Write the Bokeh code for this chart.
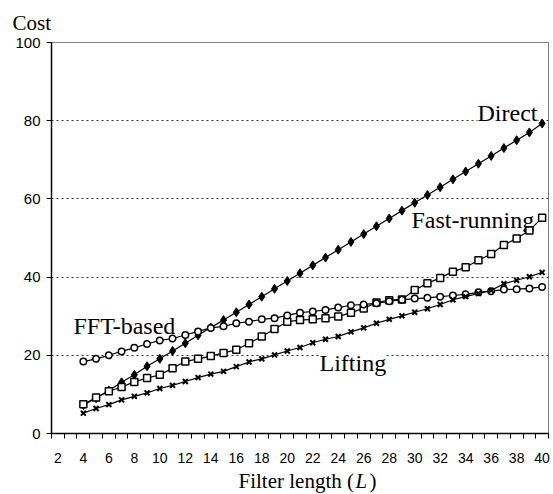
from bokeh.plotting import figure
from bokeh.models import FixedTicker, Label, Range1d, Title
from bokeh.layouts import column
from bokeh.embed import file_html
from bokeh.resources import INLINE

# ---- data ----
filter_length = list(range(4, 41))
direct = [7.3, 9.0, 11.0, 13.1, 15.0, 17.2, 19.1, 21.1, 23.1, 25.1, 27.1, 29.0, 31.0,
          33.0, 35.0, 37.0, 39.0, 41.0, 43.0, 45.0, 47.0, 49.0, 51.0, 53.0, 55.0, 57.0,
          59.0, 61.0, 63.0, 65.0, 67.0, 69.0, 71.0, 73.0, 75.0, 77.0, 79.3]
fast_running = [7.5, 9.2, 10.8, 11.9, 13.2, 14.2, 15.0, 16.7, 18.4, 19.1, 19.8, 20.6, 21.4,
                23.1, 24.8, 26.7, 28.6, 29.0, 29.2, 29.5, 29.9, 30.9, 32.0, 33.5, 34.1, 34.3,
                36.7, 38.4, 39.8, 41.4, 42.5, 44.3, 45.9, 48.2, 49.9, 51.9, 55.2]
fft_based = [18.4, 19.1, 20.0, 21.0, 21.9, 22.9, 23.8, 24.3, 25.2, 26.1, 27.0, 27.4, 28.2,
             28.6, 29.2, 29.5, 30.2, 30.9, 31.2, 31.6, 32.2, 32.8, 33.0, 33.3, 33.8, 34.2,
             34.5, 34.7, 35.0, 35.3, 35.6, 36.1, 36.4, 36.8, 36.9, 37.1, 37.5]
lifting = [5.2, 6.4, 7.4, 8.6, 9.5, 10.4, 11.5, 12.3, 13.3, 14.3, 15.2, 15.9, 17.1,
           18.3, 19.1, 20.1, 21.1, 22.0, 23.2, 24.1, 24.8, 26.0, 27.0, 28.2, 29.2, 30.1,
           31.0, 31.9, 33.0, 34.2, 35.0, 35.8, 36.6, 38.3, 39.2, 40.1, 41.2]
x_tick_labels = list(range(2, 41, 2))
y_ticks = [0, 20, 40, 60, 80, 100]

BOT_H = 28          # strip holding the x title
X0, X1 = 1.5, 40.5
Y0, Y1 = 0, 100
FW, FH = 497, 391
BL, BT, BR, BB = 51, 41, 5, 34
SHIFT = 8           # baseline correction (px)

serif = "Liberation Serif"

p = figure(frame_width=FW, frame_height=FH, min_border_left=BL, min_border_top=BT,
           min_border_right=BR, min_border_bottom=BB,
           x_range=Range1d(X0, X1), y_range=Range1d(Y0, Y1),
           output_backend="svg", toolbar_location=None)
p.title = Title(text="Cost", align="left", offset=-39, text_font=serif,
                text_font_size="21px", text_font_style="normal", text_color="black",
                standoff=16)

# strip below the plot for the x-axis title (frame aligns with the main frame)
bot = figure(width=BL + FW + BR, height=BOT_H, x_range=Range1d(BL, BL + FW),
             y_range=Range1d(BOT_H, 0), min_border=0, min_border_left=BL,
             min_border_right=BR, output_backend="svg", toolbar_location=None)
bot.axis.visible = False
bot.grid.visible = False
bot.outline_line_color = None
y_base = 487 - (BT + FH + BB) - SHIFT
for txt, px, style in [("Filter length (", 238, "normal"), ("L", 355, "italic"),
                       (")", 369, "normal")]:
    bot.add_layout(Label(x=px, y=y_base, text=txt, text_font=serif, text_font_size="21px",
                         text_font_style=style, text_color="black", text_align="left",
                         text_baseline="alphabetic"))


def sx(px):
    return X0 + (px - BL) / FW * (X1 - X0)


def sy(py):
    return Y1 - (py - SHIFT - BT) / FH * (Y1 - Y0)


p.outline_line_color = "black"
p.outline_line_dash = "1 1"
p.outline_line_width = 1

p.xgrid.visible = False
p.ygrid.ticker = FixedTicker(ticks=y_ticks)
p.ygrid.grid_line_color = "#333333"
p.ygrid.grid_line_dash = "2 3"
p.ygrid.grid_line_width = 1

xa = p.xaxis[0]
xa.ticker = FixedTicker(ticks=x_tick_labels, minor_ticks=[v + 0.5 for v in range(1, 41)])
xa.major_tick_out = 0
xa.major_tick_in = 0
xa.minor_tick_out = 5
xa.minor_tick_in = 0
xa.minor_tick_line_color = "black"
xa.axis_line_color = "black"
xa.axis_line_width = 1.5
xa.major_label_standoff = 14
xa.major_label_text_font = "Liberation Sans"
xa.major_label_text_font_size = "14px"
xa.major_label_text_color = "black"

ya = p.yaxis[0]
ya.ticker = FixedTicker(ticks=y_ticks, minor_ticks=[])
ya.major_tick_out = 5
ya.major_tick_in = 0
ya.major_tick_line_color = "black"
ya.axis_line_color = "black"
ya.axis_line_width = 1.5
ya.major_label_standoff = 6
ya.major_label_text_font = "Liberation Sans"
ya.major_label_text_font_size = "15px"
ya.major_label_text_color = "black"

# series labels (drawn under the data marks, over the grid)
for txt, px, py in [("Direct", 477, 119), ("Fast-running", 411, 226),
                    ("FFT-based", 73, 332), ("Lifting", 319, 369)]:
    p.add_layout(Label(x=sx(px), y=sy(py), text=txt, text_font=serif,
                       text_font_size="24px", text_color="black", text_align="left",
                       text_baseline="alphabetic", background_fill_color="white",
                       padding=0, level="underlay"))

lw = 1.2
p.line(filter_length, direct, line_color="black", line_width=lw)
p.scatter(filter_length, direct, marker="diamond", size=9, fill_color="black",
          line_color="black")
p.line(filter_length, fast_running, line_color="black", line_width=lw)
p.scatter(filter_length, fast_running, marker="square", size=7, fill_color="white",
          line_color="black", line_width=1.5)
p.line(filter_length, fft_based, line_color="black", line_width=lw)
p.scatter(filter_length, fft_based, marker="circle", size=6.5, fill_color="white",
          line_color="black", line_width=1.5)
p.line(filter_length, lifting, line_color="black", line_width=lw)
p.scatter(filter_length, lifting, marker="x", size=7, line_color="black", line_width=2)

layout = column(p, bot, spacing=0)
open("out.html", "w").write(file_html(layout, INLINE))
